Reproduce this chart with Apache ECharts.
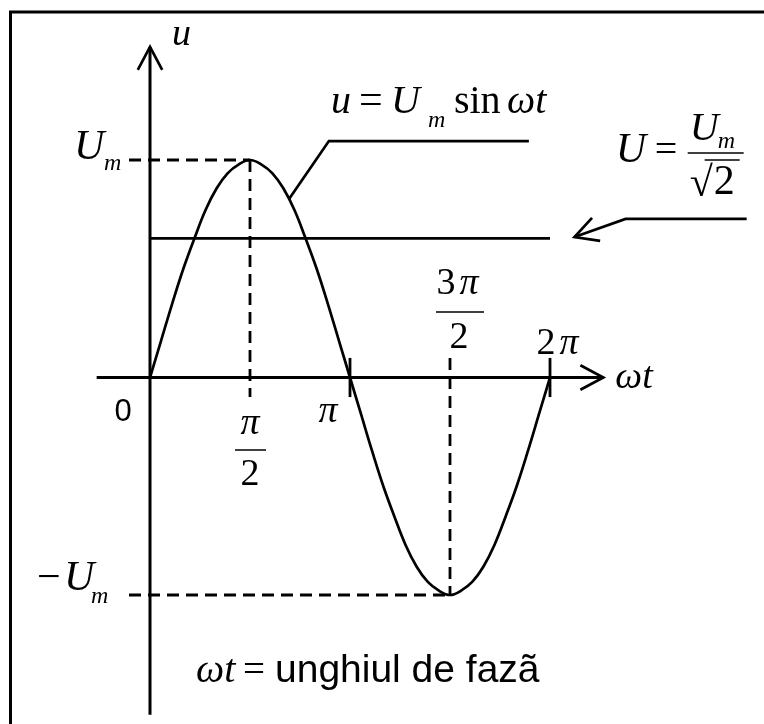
<!DOCTYPE html>
<html>
<head>
<meta charset="utf-8">
<script src="https://cdn.jsdelivr.net/npm/echarts@6/dist/echarts.min.js"></script>
<style>
  html, body { margin: 0; padding: 0; background: #fff; }
  #chart { width: 764px; height: 724px; }
</style>
</head>
<body>
<div id="chart"></div>
<script>
// Phase angle ωt (degrees) and the instantaneous voltage u, as a fraction of Um
const phaseDeg = [0, 10, 20, 30, 40, 50, 60, 70, 80, 90, 100, 110, 120, 130, 140, 150, 160, 170, 180,
                  190, 200, 210, 220, 230, 240, 250, 260, 270, 280, 290, 300, 310, 320, 330, 340, 350, 360];
const voltage  = [0, 0.17, 0.34, 0.5, 0.64, 0.77, 0.87, 0.94, 0.98, 1, 0.98, 0.94, 0.87, 0.77, 0.64, 0.5, 0.34, 0.17, 0,
                  -0.17, -0.34, -0.5, -0.64, -0.77, -0.87, -0.94, -0.98, -1, -0.98, -0.94, -0.87, -0.77, -0.64, -0.5, -0.34, -0.17, 0];

// Effective value level marked by the horizontal line
const rmsLevel = 0.64;
const peakLevel = 1;

// Angle ticks on the ωt axis
const tickDeg = [90, 180, 270, 360];

// Extent of the drawn axes (data units)
const xAxisExtent = [-48, 408];
const yAxisExtent = [-1.55, 1.52];

// Leader line for the u = Um sin ωt caption and arrow for U = Um/√2
const sineLeader = [[125, 0.82], [161, 1.087], [341, 1.087]];
const rmsPointer = [[382, 0.646], [428, 0.729], [537, 0.729]];

const chart = echarts.init(document.getElementById('chart'), null, { renderer: 'canvas' });

chart.setOption({
  animation: false,
  backgroundColor: '#fff',
  grid: { left: 150, top: 160, width: 400, height: 435 },
  xAxis: { type: 'value', min: 0, max: 360, show: false },
  yAxis: { type: 'value', min: -1, max: 1, show: false },
  series: [
    {
      type: 'line',
      data: phaseDeg.map((d, i) => [d, voltage[i]]),
      smooth: 0.4,
      showSymbol: false,
      clip: false,
      lineStyle: { color: '#000', width: 2.7 }
    },
    {
      type: 'line',
      data: [[0, rmsLevel], [360, rmsLevel]],
      showSymbol: false,
      clip: false,
      lineStyle: { color: '#000', width: 2.7 }
    }
  ]
});

const px = (x, y) => chart.convertToPixel({ gridIndex: 0 }, [x, y]);

const SERIF = '"Liberation Serif", "Times New Roman", serif';
const SANS = '"Liberation Sans", Arial, sans-serif';

function line(a, b, dashed, width) {
  return {
    type: 'line',
    shape: { x1: a[0], y1: a[1], x2: b[0], y2: b[1] },
    style: { stroke: '#000', lineWidth: width || 2.8, lineDash: dashed ? [12, 7] : null, fill: null }
  };
}
function poly(points, width) {
  return {
    type: 'polyline',
    shape: { points: points },
    style: { stroke: '#000', lineWidth: width || 2.7, fill: null, lineJoin: 'miter' }
  };
}
// text positioned by its left (or centre) edge and its baseline
function txt(str, x, baseline, size, opts) {
  opts = opts || {};
  const family = opts.sans ? SANS : SERIF;
  const style = (opts.italic === false || opts.sans ? '' : 'italic ');
  const align = opts.align || 'left';
  return {
    type: 'text',
    x: x,
    y: baseline - 0.34 * size,
    style: {
      text: str,
      font: style + size + 'px ' + family,
      fill: '#000',
      align: align, textAlign: align,
      verticalAlign: 'middle', textVerticalAlign: 'middle'
    }
  };
}
// open arrowhead at tip, pointing away from "from"
function arrowHead(tip, from, len, deg) {
  len = len || 26; deg = deg || 28;
  const dx = tip[0] - from[0], dy = tip[1] - from[1];
  const d = Math.hypot(dx, dy);
  const ux = dx / d, uy = dy / d;
  const a = deg * Math.PI / 180;
  const rot = (s) => [ux * Math.cos(s * a) - uy * Math.sin(s * a), ux * Math.sin(s * a) + uy * Math.cos(s * a)];
  const r1 = rot(1), r2 = rot(-1);
  return poly([[tip[0] - r1[0] * len, tip[1] - r1[1] * len], tip, [tip[0] - r2[0] * len, tip[1] - r2[1] * len]]);
}

function buildGraphics() {
  const g = [];
  const origin = px(0, 0);

  // frame
  g.push({ type: 'rect', shape: { x: 10.5, y: 12, width: 900, height: 900 },
           style: { stroke: '#000', lineWidth: 3, fill: null } });

  // axes with open arrowheads
  const xa0 = px(xAxisExtent[0], 0), xa1 = px(xAxisExtent[1], 0);
  const ya0 = px(0, yAxisExtent[0]), ya1 = px(0, yAxisExtent[1]);
  g.push(line(xa0, xa1, false, 3));
  g.push(arrowHead(xa1, xa0));
  g.push(line(ya0, ya1, false, 3));
  g.push(arrowHead(ya1, ya0));

  // tick marks at π and 2π
  const tickHalf = 0.09;
  [180, 360].forEach(d => g.push(line(px(d, tickHalf), px(d, -tickHalf))));

  // dashed guides to the peak and the trough
  const pk = px(tickDeg[0], peakLevel), tr = px(tickDeg[2], -peakLevel);
  g.push(line([origin[0] - 21, pk[1]], pk, true));
  g.push(line(pk, px(tickDeg[0], -tickHalf), true));
  g.push(line([origin[0] - 21, tr[1]], tr, true));
  g.push(line(px(tickDeg[2], tickHalf), tr, true));

  // leader line for the sine caption
  const lead = sineLeader.map(p => px(p[0], p[1]));
  g.push(poly(lead));

  // arrow pointing at the effective value line
  const ptr = rmsPointer.map(p => px(p[0], p[1]));
  g.push(poly(ptr));
  g.push(arrowHead(ptr[0], ptr[1]));

  // axis names
  g.push(txt('u', ya1[0] + 22, ya1[1] + 1, 38));
  g.push(txt('ωt', xa1[0] + 12, origin[1] + 13.5, 38));

  // level labels
  g.push(txt('U', origin[0] - 76, pk[1] + 2, 42));
  g.push(txt('m', origin[0] - 46, pk[1] + 12, 24));
  g.push(txt('−', origin[0] - 113, tr[1] - 2, 42, { italic: false }));
  g.push(txt('U', origin[0] - 86, tr[1] - 2, 42));
  g.push(txt('m', origin[0] - 59, tr[1] + 10, 24));
  g.push(txt('0', origin[0] - 27, origin[1] + 45, 31, { sans: true, align: 'center' }));

  // angle tick labels
  const t1 = px(90, 0), t2 = px(180, 0), t3 = px(270, 0), t4 = px(360, 0);
  g.push(txt('π', t1[0], t1[1] + 59.5, 38, { align: 'center' }));
  g.push(line([t1[0] - 15, t1[1] + 72.5], [t1[0] + 16, t1[1] + 72.5], false, 1.5));
  g.push(txt('2', t1[0], t1[1] + 110.5, 38, { align: 'center', italic: false }));

  g.push(txt('π', t2[0] - 22, t2[1] + 47.5, 38, { align: 'center' }));

  g.push(txt('3', t3[0] - 4, t3[1] - 81, 38, { align: 'center', italic: false }));
  g.push(txt('π', t3[0] + 19, t3[1] - 81, 38, { align: 'center' }));
  g.push(line([t3[0] - 14, t3[1] - 65.5], [t3[0] + 34, t3[1] - 65.5], false, 1.5));
  g.push(txt('2', t3[0] + 9, t3[1] - 27, 38, { align: 'center', italic: false }));

  g.push(txt('2', t4[0] - 4, t4[1] - 20.5, 38, { align: 'center', italic: false }));
  g.push(txt('π', t4[0] + 19, t4[1] - 20.5, 38, { align: 'center' }));

  // caption u = Um sin ωt
  const k = lead[1];
  g.push(txt('u', k[0] + 2, k[1] - 25, 40));
  g.push(txt('=', k[0] + 30, k[1] - 25, 42, { italic: false }));
  g.push(txt('U', k[0] + 62, k[1] - 25, 40));
  g.push(txt('m', k[0] + 99, k[1] - 12, 24));
  g.push(txt('sin', k[0] + 125, k[1] - 25, 40, { italic: false }));
  g.push(txt('ωt', k[0] + 178, k[1] - 25, 40));

  // caption U = Um / √2
  const e = ptr[2];
  g.push(txt('U', e[0] - 131, e[1] - 54, 42));
  g.push(txt('=', e[0] - 92, e[1] - 54, 40, { italic: false }));
  g.push(line([e[0] - 59, e[1] - 66], [e[0] - 3, e[1] - 66], false, 1.5));
  g.push(txt('U', e[0] - 57, e[1] - 76, 40));
  g.push(txt('m', e[0] - 29, e[1] - 69, 24));
  g.push(txt('√', e[0] - 57, e[1] - 20, 42, { italic: false }));
  g.push(line([e[0] - 42, e[1] - 59], [e[0] - 7, e[1] - 59], false, 1.5));
  g.push(txt('2', e[0] - 33, e[1] - 22, 42, { italic: false }));

  // footnote
  g.push(txt('ωt', 196, 685, 40));
  g.push(txt('=', 243, 685, 39, { italic: false }));
  g.push(txt('unghiul de fazã', 275, 685, 39, { sans: true }));

  return g;
}

chart.setOption({ graphic: { elements: buildGraphics() } });
</script>
</body>
</html>
